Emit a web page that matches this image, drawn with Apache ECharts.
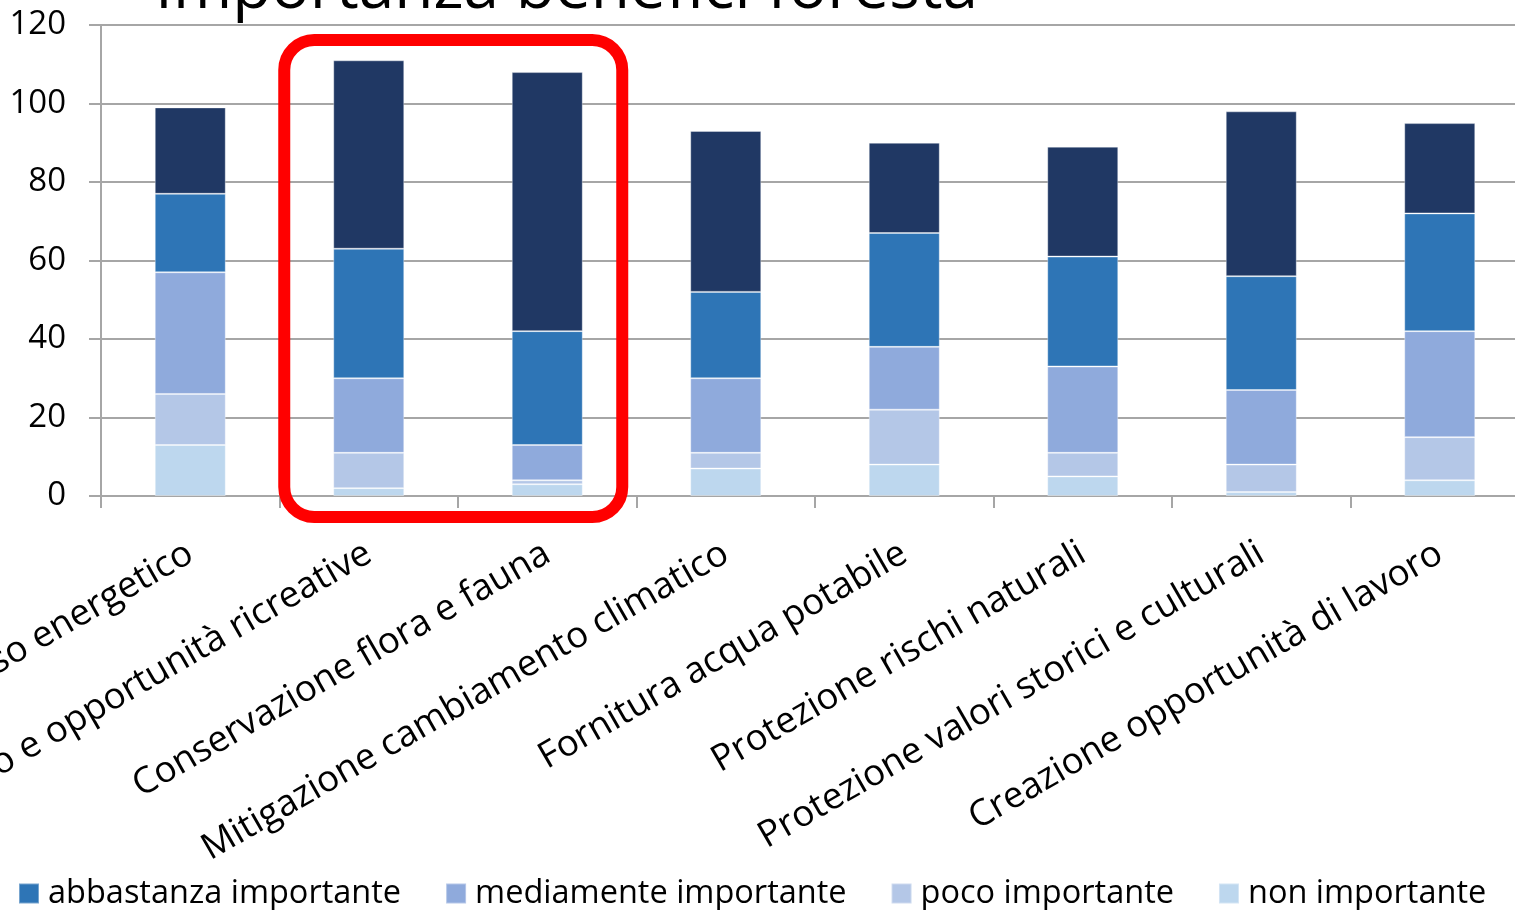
<!DOCTYPE html>
<html><head><meta charset="utf-8">
<script src="https://cdn.jsdelivr.net/npm/echarts@6/dist/echarts.min.js"></script>
<style>html,body{margin:0;padding:0;background:#fff;overflow:hidden}#c{width:1515px;height:910px}</style>
</head><body><div id="c"></div>
<script>
const titleText = 'Importanza benefici foresta';
const categories = [
  'Legno ad uso energetico',
  'Turismo e opportunità ricreative',
  'Conservazione flora e fauna',
  'Mitigazione cambiamento climatico',
  'Fornitura acqua potabile',
  'Protezione rischi naturali',
  'Protezione valori storici e culturali',
  'Creazione opportunità di lavoro'
];
const nonImportante        = [13, 2, 3, 7, 8, 5, 1, 4];
const pocoImportante       = [13, 9, 1, 4, 14, 6, 7, 11];
const mediamenteImportante = [31, 19, 9, 19, 16, 22, 19, 27];
const abbastanzaImportante = [20, 33, 29, 22, 29, 28, 29, 30];
const moltoImportante      = [22, 48, 66, 41, 23, 28, 42, 23];
const seriesNames = ['non importante', 'poco importante', 'mediamente importante', 'abbastanza importante', 'molto importante'];
const legendNames = ['abbastanza importante', 'mediamente importante', 'poco importante', 'non importante'];
const yMin = 0, yMax = 120, yInterval = 20;

const colors = ['#bdd7ee', '#b4c7e7', '#8faadc', '#2e75b6', '#203864'];
const seriesData = [nonImportante, pocoImportante, mediamenteImportante, abbastanzaImportante, moltoImportante];
const FONT = '"Open Sans", sans-serif';

const chart = echarts.init(document.getElementById('c'), null, {renderer: 'canvas'});
const option = {
  animation: false,
  backgroundColor: '#ffffff',
  title: {
    text: titleText, left: 150, top: -47,
    textStyle: {fontFamily: FONT, fontSize: 64, fontWeight: 'normal', color: '#000'}
  },
  legend: {
    data: legendNames, left: 13, top: 872, itemWidth: 20, itemHeight: 20, itemGap: 44,
    icon: 'rect',
    textStyle: {fontFamily: FONT, fontSize: 32.5, color: '#000', padding: [0, 0, 0, 4]}
  },
  grid: {left: 101, right: -14, top: 25, bottom: 414, containLabel: false, outerBoundsMode: 'none'},
  xAxis: {
    type: 'category', data: categories,
    axisLine: {lineStyle: {color: '#a6a6a6', width: 2}},
    axisTick: {show: true, length: 12, lineStyle: {color: '#a6a6a6', width: 2}},
    axisLabel: {rotate: 30, margin: 55, fontFamily: FONT, fontSize: 36.5, color: '#000', interval: 0, hideOverlap: false}
  },
  yAxis: {
    type: 'value', min: yMin, max: yMax, interval: yInterval,
    axisLine: {show: true, lineStyle: {color: '#a6a6a6', width: 2}},
    axisTick: {show: true, length: 12, lineStyle: {color: '#a6a6a6', width: 2}},
    splitLine: {lineStyle: {color: '#a6a6a6', width: 2}},
    axisLabel: {margin: 35, fontFamily: FONT, fontSize: 33, color: '#000'}
  },
  series: seriesNames.map((n, i) => ({
    name: n, type: 'bar', stack: 'tot', barWidth: 71,
    data: seriesData[i],
    itemStyle: {color: colors[i], borderColor: 'rgba(255,255,255,0.35)', borderWidth: 1},
    emphasis: {disabled: true}
  }))
};
chart.setOption(option);

// Red highlight frame around 2nd and 3rd category
const p1 = chart.convertToPixel({gridIndex: 0}, [1, yMax]);
const p2 = chart.convertToPixel({gridIndex: 0}, [2, yMin]);
chart.setOption({
  graphic: [{
    type: 'rect', z: 100,
    shape: {x: p1[0] - 84.5, y: p1[1] + 15, width: (p2[0] + 75) - (p1[0] - 84.5), height: (p2[1] + 21) - (p1[1] + 15), r: 30},
    style: {fill: 'none', stroke: '#ff0000', lineWidth: 12}
  }]
});
</script></body></html>
